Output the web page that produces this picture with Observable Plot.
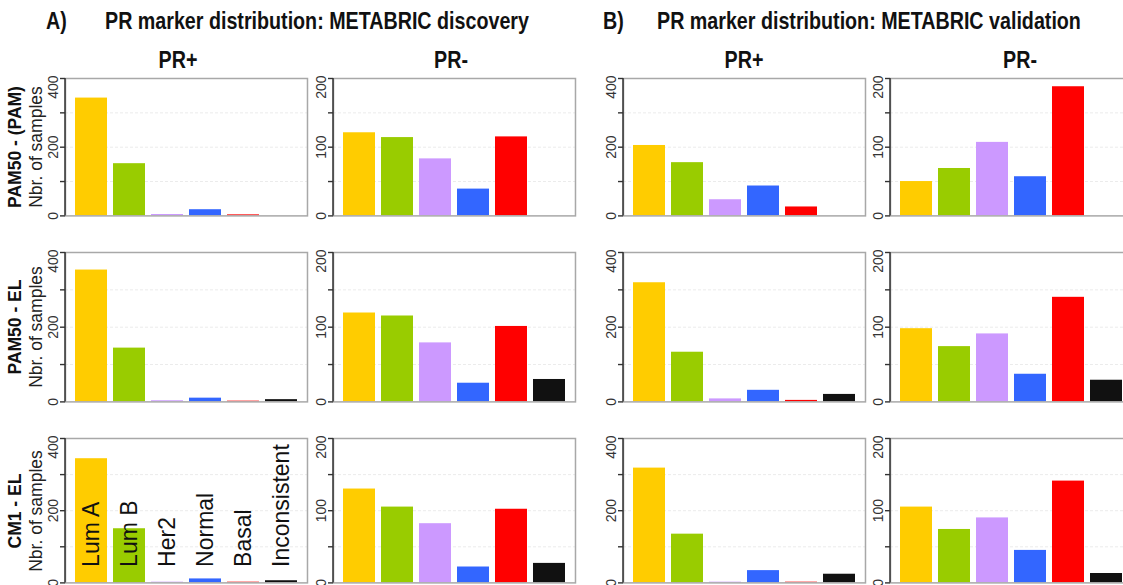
<!DOCTYPE html>
<html><head><meta charset="utf-8">
<script src="https://cdn.jsdelivr.net/npm/d3@7"></script>
<script src="https://cdn.jsdelivr.net/npm/@observablehq/plot@0.6"></script>
<style>
body{margin:0;background:#fff;overflow:hidden}
#root{position:relative;width:1123px;height:585px;overflow:hidden;background:#fff;font-family:"Liberation Sans",Arial,sans-serif}
.t{position:absolute;white-space:nowrap;line-height:1;color:#111}
.title{font-family:"Liberation Sans",Arial,sans-serif;font-weight:bold;font-size:24px;transform-origin:0 0;transform:scaleX(0.82)}
.hdr{transform:translateX(-50%) scaleX(0.82);transform-origin:50% 0}
.rot{transform:translate(-50%,-50%) rotate(-90deg)}
.rowlab{font-weight:bold;font-size:17.5px}
.ylab{font-size:17.5px;color:#222}
.panel{position:absolute;width:300px}
.panel svg{overflow:visible;max-width:none !important}
</style></head><body><div id="root"></div>
<script>
// ---- data ----
const categories = ["Lum A", "Lum B", "Her2", "Normal", "Basal", "Inconsistent"];
const colors = ["#FFCC00", "#99CC00", "#CC99FF", "#3366FF", "#FF0000", "#111111"];
const rowNames = ["PAM50 - (PAM)", "PAM50 - EL", "CM1 - EL"];
const yAxisTitle = "Nbr. of samples";
const sectionTitles = ["PR marker distribution: METABRIC discovery", "PR marker distribution: METABRIC validation"];
const sectionTags = ["A)", "B)"];
const colNames = ["PR+", "PR-"];
const ticksPos = [0, 100, 200, 300, 400];
const labelsPos = [0, 200, 400];
const ticksNeg = [0, 50, 100, 150, 200];
const labelsNeg = [0, 100, 200];

// discovery
const pamDiscPos = [343, 152, 4, 18, 3, 0];
const pamDiscNeg = [121, 114, 83, 39, 115, 0];
const elDiscPos  = [353, 144, 3, 10, 2, 6];
const elDiscNeg  = [119, 115, 79, 25, 101, 30];
const cm1DiscPos = [344, 150, 2, 11, 2, 6];
const cm1DiscNeg = [130, 105, 82, 22, 102, 27];
// validation
const pamValPos = [205, 155, 47, 87, 26, 0];
const pamValNeg = [50, 69, 107, 57, 188, 0];
const elValPos  = [319, 133, 8, 31, 4, 20];
const elValNeg  = [98, 74, 91, 37, 140, 29];
const cm1ValPos = [318, 135, 2, 34, 2, 24];
const cm1ValNeg = [105, 74, 90, 45, 141, 13];

const grid = [
  [pamDiscPos, pamDiscNeg, pamValPos, pamValNeg],
  [elDiscPos, elDiscNeg, elValPos, elValNeg],
  [cm1DiscPos, cm1DiscNeg, cm1ValPos, cm1ValNeg]
];

// ---- layout ----
const colLeft = [65, 333, 623, 890];
const PW = 242;
const rowTop = [78.3, 252.3, 438.3];
const rowH = [137.4, 149.4, 144.4];
const ML = 30, MR = 2, MT = 2, MB = 2;

const root = document.getElementById("root");

function addText(txt, cls, left, top, extra) {
  const d = document.createElement("div");
  d.className = "t " + cls;
  d.textContent = txt;
  d.style.left = left + "px";
  d.style.top = top + "px";
  if (extra) Object.assign(d.style, extra);
  root.appendChild(d);
  return d;
}

function panel(values, ticks, labelTicks, h, showCats) {
  const data = categories.map((c, i) => ({cat: c, n: values[i]}));
  const yMax = ticks[ticks.length - 1];
  const leftLine = (index, scales, vals, dims) => {
    const l = document.createElementNS("http://www.w3.org/2000/svg", "line");
    l.setAttribute("x1", dims.marginLeft);
    l.setAttribute("x2", dims.marginLeft);
    l.setAttribute("y1", scales.y(0));
    l.setAttribute("y2", scales.y(yMax));
    l.setAttribute("stroke", "#333");
    l.setAttribute("stroke-width", 1.5);
    return l;
  };
  return Plot.plot({
    width: PW + ML + MR,
    height: h + MT + MB,
    marginLeft: ML, marginRight: MR, marginTop: MT, marginBottom: MB,
    x: {domain: categories, paddingInner: 0.165, paddingOuter: 0.22, axis: null},
    y: {domain: [0, yMax], axis: null},
    color: {domain: categories, range: colors},
    style: {background: "transparent", overflow: "visible", maxWidth: "none"},
    marks: [
      Plot.ruleY(ticks.slice(1, -1), {stroke: "#ebebeb", strokeDasharray: "3,2", strokeWidth: 1}),
      Plot.barY(data, {x: "cat", y: "n", fill: "cat"}),
      Plot.frame({stroke: "#a8a8a8", strokeWidth: 1.5}),
      leftLine,
      Plot.axisY({ticks: ticks, tickSize: 5, tickFormat: () => "", stroke: "#333", strokeWidth: 1.4, label: null}),
      Plot.text(labelTicks.filter(t => t < yMax), {y: d => d, text: d => String(d), frameAnchor: "left", dx: -12, rotate: -90, textAnchor: "middle", lineAnchor: "middle", fontSize: 14, fill: "#333", fontFamily: "Liberation Sans, Arial, sans-serif"}),
      Plot.text([yMax], {y: d => d, text: d => String(d), frameAnchor: "left", dx: -12, dy: -3, rotate: -90, textAnchor: "end", lineAnchor: "middle", fontSize: 14, fill: "#333", fontFamily: "Liberation Sans, Arial, sans-serif"}),
      showCats ? Plot.text(data, {x: "cat", y: () => 0, text: "cat", rotate: -90, textAnchor: "start", lineAnchor: "middle", dy: -16, fontSize: 23, fill: "#111", fontFamily: "Liberation Sans, Arial, sans-serif"}) : null
    ]
  });
}

for (let r = 0; r < 3; r++) {
  for (let c = 0; c < 4; c++) {
    const isPos = c % 2 === 0;
    const p = panel(grid[r][c], isPos ? ticksPos : ticksNeg, isPos ? labelsPos : labelsNeg, rowH[r], r === 2 && c === 0);
    const wrap = document.createElement("div");
    wrap.className = "panel";
    wrap.style.left = (colLeft[c] - ML) + "px";
    wrap.style.top = (rowTop[r] - MT) + "px";
    wrap.appendChild(p);
    root.appendChild(wrap);
  }
  const cy = rowTop[r] + rowH[r] / 2;
  addText(rowNames[r], "rowlab rot", 15.5, cy);
  addText(yAxisTitle, "ylab rot", 37, cy);
}

// titles
addText(sectionTags[0], "title", 46, 9);
addText(sectionTitles[0], "title", 105, 9);
addText(sectionTags[1], "title", 603, 9);
addText(sectionTitles[1], "title", 657, 9);
const hdrCenters = [177.5, 451, 743.5, 1020];
hdrCenters.forEach((x, i) => addText(colNames[i % 2], "title hdr", x, 47.5));
</script>
</body></html>
